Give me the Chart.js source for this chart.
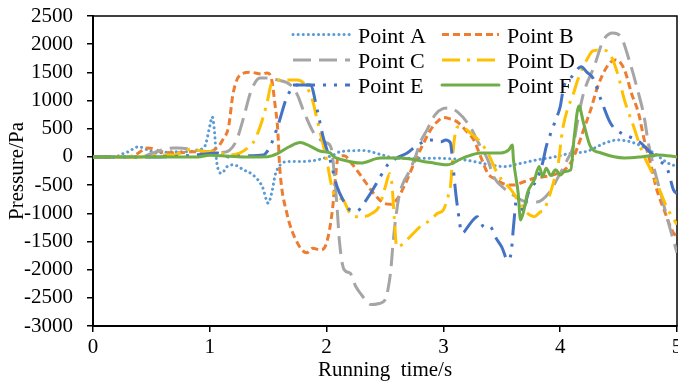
<!DOCTYPE html>
<html>
<head>
<meta charset="utf-8">
<script src="https://cdn.jsdelivr.net/npm/chart.js@4.4.1/dist/chart.umd.min.js"></script>
<style>
  body { margin: 0; background: #fff; }
  #wrap { width: 678px; height: 383px; }
</style>
</head>
<body>
<div id="wrap"><canvas id="pressureChart" width="678" height="383"></canvas></div>
<script>
// values (time in s, pressure in Pa)
const seriesNames = ['Point A', 'Point B', 'Point C', 'Point D', 'Point E', 'Point F'];

const timeA = [0, 0.2, 0.23, 0.3, 0.39, 0.47, 0.55, 0.68, 0.79, 0.9, 0.96, 1.0, 1.02, 1.04, 1.06, 1.1, 1.15, 1.2, 1.29, 1.37, 1.45, 1.5, 1.53, 1.56, 1.6, 1.66, 1.8, 1.92, 2.06, 2.12, 2.32, 2.45, 2.6, 2.89, 3.18, 3.4, 3.52, 3.65, 3.8, 3.95, 4.09, 4.23, 4.38, 4.49, 4.63, 4.8, 4.92, 5.0];
const pressureA = [0, 0, 35, 90, 180, 124, 70, 90, 90, 124, 200, 550, 710, 450, -106, -290, -170, -140, -230, -320, -530, -820, -640, -320, -150, -83, -80, -53, 35, 95, 112, 50, -23, -23, -53, -140, -172, -120, -53, 0, 65, 100, 243, 300, 250, 70, -106, -170];

const timeB = [0, 0.3, 0.36, 0.47, 0.59, 0.7, 0.85, 0.99, 1.07, 1.11, 1.16, 1.2, 1.26, 1.35, 1.45, 1.49, 1.53, 1.56, 1.58, 1.6, 1.66, 1.75, 1.83, 1.88, 1.95, 2.0, 2.05, 2.07, 2.1, 2.15, 2.22, 2.3, 2.4, 2.49, 2.55, 2.6, 2.68, 2.75, 2.82, 2.89, 2.96, 3.0, 3.05, 3.12, 3.2, 3.26, 3.32, 3.38, 3.45, 3.52, 3.6, 3.69, 3.78, 3.92, 4.02, 4.09, 4.15, 4.2, 4.26, 4.32, 4.4, 4.47, 4.52, 4.56, 4.61, 4.67, 4.72, 4.78, 4.82, 4.9, 4.97, 5.0];
const pressureB = [0, 0, 35, 160, 90, 70, 90, 90, 180, 300, 530, 1130, 1455, 1500, 1470, 1490, 1366, 900, 532, -230, -1000, -1525, -1700, -1620, -1650, -1525, -940, -500, 0, 20, -130, -350, -640, -820, -840, -760, -450, -106, 200, 480, 650, 700, 680, 620, 450, 300, 0, -290, -400, -480, -500, -440, -380, -330, -250, -106, 180, 480, 830, 1240, 1600, 1720, 1660, 1490, 1130, 780, 300, -170, -530, -1000, -1350, -1400];

const timeC = [0, 0.4, 0.5, 0.59, 0.69, 0.73, 0.87, 0.95, 1.02, 1.1, 1.17, 1.23, 1.29, 1.35, 1.43, 1.5, 1.58, 1.69, 1.75, 1.8, 1.89, 1.95, 2.0, 2.04, 2.07, 2.09, 2.11, 2.15, 2.2, 2.25, 2.3, 2.38, 2.45, 2.5, 2.53, 2.55, 2.57, 2.59, 2.62, 2.66, 2.7, 2.76, 2.8, 2.86, 2.93, 3.0, 3.04, 3.12, 3.23, 3.3, 3.38, 3.43, 3.52, 3.6, 3.72, 3.8, 3.9, 4.0, 4.06, 4.11, 4.15, 4.2, 4.29, 4.37, 4.45, 4.52, 4.59, 4.67, 4.72, 4.75, 4.8, 4.86, 4.92, 5.0];
const pressureC = [0, 0, 60, 124, 160, 160, 124, 100, 90, 80, 120, 300, 700, 1150, 1400, 1400, 1366, 1277, 1100, 830, 425, 300, 250, 150, -400, -900, -1500, -2000, -2060, -2300, -2450, -2620, -2600, -2540, -2300, -2000, -1500, -1118, -700, -440, -290, 0, 250, 480, 750, 860, 870, 800, 530, 250, -53, -350, -560, -680, -800, -800, -650, -290, -53, 180, 650, 1130, 1600, 2070, 2200, 2130, 1720, 1130, 700, 300, -170, -640, -1118, -1700];

const timeD = [0, 0.4, 0.55, 0.7, 0.85, 0.96, 1.03, 1.1, 1.17, 1.26, 1.32, 1.37, 1.43, 1.49, 1.53, 1.6, 1.75, 1.83, 1.88, 1.92, 2.0, 2.06, 2.14, 2.2, 2.26, 2.32, 2.39, 2.45, 2.5, 2.54, 2.56, 2.58, 2.6, 2.65, 2.69, 2.8, 2.89, 2.95, 3.0, 3.04, 3.06, 3.09, 3.12, 3.17, 3.23, 3.3, 3.38, 3.47, 3.58, 3.65, 3.72, 3.78, 3.83, 3.86, 3.95, 3.98, 4.02, 4.06, 4.11, 4.15, 4.24, 4.28, 4.35, 4.42, 4.49, 4.55, 4.63, 4.7, 4.78, 4.84, 4.91, 5.0];
const pressureD = [0, 0, 30, 40, 140, 90, 90, 60, 35, 70, 150, 250, 530, 960, 1310, 1366, 1366, 1240, 1000, 650, -53, -640, -760, -1000, -1060, -1060, -1000, -880, -550, -300, -500, -1100, -1600, -1550, -1470, -1240, -1118, -1000, -940, -700, -530, 250, 530, 520, 425, 300, 70, -320, -585, -800, -1000, -1060, -975, -940, -400, -170, 480, 830, 1100, 1366, 1770, 1880, 1900, 1840, 1490, 1010, 530, 100, -250, -530, -880, -1200];

const timeE = [0, 0.5, 0.8, 1.0, 1.06, 1.17, 1.3, 1.46, 1.53, 1.59, 1.66, 1.75, 1.86, 1.92, 1.97, 2.03, 2.09, 2.14, 2.2, 2.26, 2.32, 2.39, 2.46, 2.53, 2.6, 2.69, 2.78, 2.89, 2.98, 3.02, 3.06, 3.08, 3.1, 3.12, 3.16, 3.23, 3.29, 3.35, 3.4, 3.45, 3.5, 3.55, 3.58, 3.6, 3.63, 3.68, 3.73, 3.8, 3.85, 3.88, 3.92, 3.96, 4.0, 4.03, 4.09, 4.18, 4.23, 4.28, 4.35, 4.43, 4.52, 4.6, 4.69, 4.75, 4.84, 4.92, 4.97, 5.0];
const pressureE = [0, 0, 20, 60, 70, 0, 20, 35, 250, 600, 1060, 1277, 1277, 830, 355, -53, -530, -760, -940, -960, -820, -600, -350, -120, -20, 70, 213, 300, 270, 300, 250, -100, -530, -880, -1350, -1180, -1060, -1250, -1240, -1440, -1600, -1830, -1700, -1240, -700, -940, -620, -400, -100, 180, 425, 650, 890, 1240, 1400, 1600, 1500, 1400, 1010, 600, 425, 350, 250, 124, -53, -230, -585, -650];

const timeF = [0, 0.9, 1.0, 1.1, 1.3, 1.5, 1.58, 1.68, 1.775, 1.85, 1.95, 2.03, 2.06, 2.15, 2.29, 2.46, 2.63, 2.89, 3.03, 3.17, 3.32, 3.49, 3.56, 3.59, 3.6, 3.64, 3.66, 3.69, 3.72, 3.78, 3.82, 3.85, 3.88, 3.92, 3.96, 4.0, 4.04, 4.09, 4.12, 4.16, 4.2, 4.26, 4.35, 4.55, 4.69, 4.84, 5.0];
const pressureF = [0, 0, 30, 20, 0, 5, 60, 180, 254, 200, 100, 70, 5, -60, -110, -20, -20, -100, -140, -18, 70, 70, 124, 213, -53, -640, -1118, -940, -640, -400, -170, -350, -200, -330, -230, -320, -260, -230, 355, 905, 600, 180, 70, -18, 0, 35, 0];

const xTicks = [0, 1, 2, 3, 4, 5];
const yTicks = [-3000, -2500, -2000, -1500, -1000, -500, 0, 500, 1000, 1500, 2000, 2500];

const seriesTimes = [timeA, timeB, timeC, timeD, timeE, timeF];
const seriesPressures = [pressureA, pressureB, pressureC, pressureD, pressureE, pressureF];
const seriesColors = ['#5B9BD5', '#ED7D31', '#A5A5A5', '#FFC000', '#4472C4', '#70AD47'];
const seriesDashes = [[0.1, 5], [7, 4], [18, 8], [18, 7, 3, 7], [22, 8, 3, 8, 3, 8], []];
const seriesCaps = ['round', 'butt', 'butt', 'butt', 'butt', 'round'];

const serif = '"Liberation Serif", "Times New Roman", serif';

const datasets = seriesNames.map((name, i) => ({
  label: name,
  data: seriesTimes[i].map((t, j) => ({ x: t, y: seriesPressures[i][j] })),
  borderColor: seriesColors[i],
  backgroundColor: seriesColors[i],
  borderWidth: 3,
  borderDash: seriesDashes[i],
  borderCapStyle: seriesCaps[i],
  pointRadius: 0,
  fill: false,
  cubicInterpolationMode: 'monotone',
  order: 5 - i,
}));

// frame round the plot area
const frameBox = {
  id: 'frameBox',
  beforeDatasetsDraw(chart) {
    const { ctx, chartArea: a } = chart;
    ctx.save();
    ctx.strokeStyle = '#000';
    ctx.lineWidth = 1.5;
    ctx.strokeRect(a.left, a.top, a.right - a.left, a.bottom - a.top);
    ctx.restore();
  },
};

// legend inside the plot: 2 columns x 3 rows
const legendCols = [293, 442];
const legendRows = [34.5, 60, 85];
const innerLegend = {
  id: 'innerLegend',
  afterDatasetsDraw(chart) {
    const ctx = chart.ctx;
    chart.data.datasets.forEach((ds, i) => {
      const x0 = legendCols[i % 2];
      const y = legendRows[Math.floor(i / 2)];
      ctx.save();
      ctx.strokeStyle = ds.borderColor;
      ctx.lineWidth = ds.borderWidth;
      ctx.lineCap = ds.borderCapStyle;
      ctx.setLineDash(ds.borderDash);
      ctx.beginPath();
      ctx.moveTo(x0, y);
      ctx.lineTo(x0 + 57, y);
      ctx.stroke();
      ctx.setLineDash([]);
      ctx.fillStyle = '#000';
      ctx.font = '22px ' + serif;
      ctx.textBaseline = 'alphabetic';
      ctx.fillText(ds.label, x0 + 65, y + 8);
      ctx.restore();
    });
  },
};

const tickFont = { family: serif, size: 21 };

new Chart(document.getElementById('pressureChart'), {
  type: 'line',
  data: { datasets },
  options: {
    responsive: false,
    animation: false,
    layout: { padding: { top: 16, right: 1, left: 0, bottom: 0 } },
    plugins: { legend: { display: false }, tooltip: { enabled: false } },
    scales: {
      x: {
        type: 'linear',
        min: 0,
        max: 5,
        afterBuildTicks: (scale) => { scale.ticks = xTicks.map(v => ({ value: v })); },
        ticks: { font: tickFont, color: '#000', padding: 3, maxRotation: 0, autoSkip: false, callback: (v) => String(v) },
        grid: { display: true, drawOnChartArea: false, drawTicks: true, tickLength: 6, color: '#000', lineWidth: 1.5 },
        border: { display: true, color: '#000', width: 2 },
        title: { display: true, text: 'Running  time/s', font: tickFont, color: '#000', padding: 0 },
        afterFit: (scale) => { scale.height = 57; scale.paddingLeft = 0; scale.paddingRight = 0; },
      },
      y: {
        type: 'linear',
        min: -3000,
        max: 2500,
        afterBuildTicks: (scale) => { scale.ticks = yTicks.map(v => ({ value: v })); },
        ticks: { font: tickFont, color: '#000', padding: 14, autoSkip: false, callback: (v) => String(v) },
        grid: { display: true, drawOnChartArea: false, drawTicks: true, tickLength: 6, color: '#000', lineWidth: 1.5 },
        border: { display: true, color: '#000', width: 2 },
        title: { display: true, text: 'Pressure/Pa', font: tickFont, color: '#000', padding: { top: 5, bottom: 0 } },
        afterFit: (scale) => { scale.width = 93; scale.paddingTop = 0; scale.paddingBottom = 0; },
      },
    },
  },
  plugins: [frameBox, innerLegend],
});
</script>
</body>
</html>
